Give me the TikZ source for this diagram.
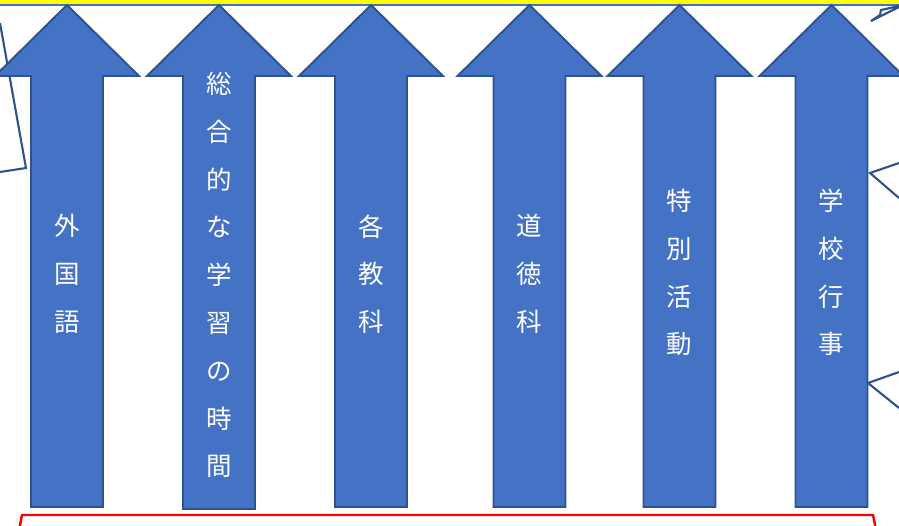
\documentclass[tikz,border=0pt]{standalone}
\usepackage{fontspec}
\newfontfamily\jpfont{Noto Sans CJK JP}
\definecolor{arrowblue}{HTML}{4472C4}
\definecolor{arrowedge}{HTML}{2F528F}
\definecolor{boxred}{HTML}{FF0000}
\definecolor{baryellow}{HTML}{FFFF00}

\begin{document}
\begin{tikzpicture}[x=0.02cm, y=-0.02cm,
    bigarrow/.style={fill=arrowblue, draw=arrowedge, line width=1.1pt, line join=miter},
    callout/.style={draw=arrowedge, line width=1.2pt, fill=white, line join=miter},
    subject/.style={text=white, align=center, inner sep=0pt,
      font=\jpfont\fontsize{14.5}{27.2}\selectfont}]
    \useasboundingbox (0,0) rectangle (899,525);

    % top bar
    \fill[baryellow] (0,0) rectangle (899,4);
    \draw[arrowblue, line width=1.3pt] (0,5) -- (899,5);

    % callouts
    \draw[callout] (0,23) -- (26,168) -- (0,172);
    \draw[callout] (899,7) -- (871,21) -- (880,15) -- (881,10) -- (899,6);
    \draw[callout] (899,163) -- (870,173) -- (899,198);
    \draw[callout] (899,372) -- (868,383) -- (899,408);

    % arrows
    \foreach \cx/\bot in {67/507, 219/509, 371/507, 529.5/507, 679.5/507, 831.5/507}
      \draw[bigarrow] (\cx-36,\bot) -- (\cx-36,76) -- (\cx-72,76) -- (\cx,5)
        -- (\cx+72,76) -- (\cx+36,76) -- (\cx+36,\bot) -- cycle;

    % labels
    \node[subject] (gaikokugo) at (67,274) {外\\国\\語};
    \node[subject] (sougou) at (219,275) {総\\合\\的\\な\\学\\習\\の\\時\\間};
    \node[subject] (kakukyouka) at (371,274) {各\\教\\科};
    \node[subject] (doutoku) at (529.5,274) {道\\徳\\科};
    \node[subject] (tokkatsu) at (679.5,272.5) {特\\別\\活\\動};
    \node[subject] (gyouji) at (831.5,272.5) {学\\校\\行\\事};

    % bottom box
    \draw[boxred, line width=1.4pt] (19,530) -- (22,515) -- (873,515) -- (876,530);
\end{tikzpicture}
\end{document}
